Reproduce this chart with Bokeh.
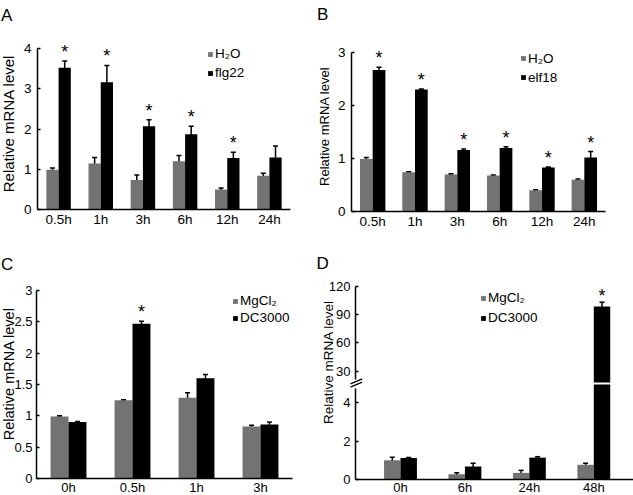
from bokeh.plotting import figure
from bokeh.models import (ColumnDataSource, Whisker, TeeHead, LabelSet, Label, Legend,
                          LegendItem, FixedTicker, Range1d, Arrow, LinearAxis, CDSView,
                          BooleanFilter)
from bokeh.layouts import row, column
from bokeh.core.properties import value
from bokeh.embed import file_html
from bokeh.resources import INLINE

FONT = "Liberation Sans"
GREY = "#737373"
BLACK = "#000000"

# ---------------- data ----------------
# Panel A
a_times = ["0.5h", "1h", "3h", "6h", "12h", "24h"]
a_h2o = [0.99, 1.14, 0.73, 1.20, 0.50, 0.84]
a_h2o_err = [0.04, 0.15, 0.13, 0.14, 0.035, 0.06]
a_flg22 = [3.52, 3.16, 2.07, 1.87, 1.28, 1.29]
a_flg22_err = [0.17, 0.42, 0.16, 0.20, 0.14, 0.29]
a_sig = [True, True, True, True, True, False]
a_yticks = [0, 1, 2, 3, 4]
a_ylabels = ["0", "1", "2", "3", "4"]

# Panel B
b_times = ["0.5h", "1h", "3h", "6h", "12h", "24h"]
b_h2o = [0.99, 0.74, 0.70, 0.68, 0.40, 0.60]
b_h2o_err = [0.03, 0.01, 0.01, 0.01, 0.01, 0.015]
b_elf18 = [2.67, 2.30, 1.16, 1.20, 0.83, 1.02]
b_elf18_err = [0.05, 0.01, 0.02, 0.02, 0.01, 0.11]
b_sig = [True, True, True, True, True, True]
b_yticks = [0, 1, 2, 3]
b_ylabels = ["0", "1", "2", "3"]

# Panel C
c_times = ["0h", "0.5h", "1h", "3h"]
c_mgcl2 = [0.99, 1.25, 1.29, 0.83]
c_mgcl2_err = [0.01, 0.005, 0.08, 0.02]
c_dc3000 = [0.90, 2.47, 1.60, 0.86]
c_dc3000_err = [0.01, 0.04, 0.06, 0.04]
c_sig = [False, True, False, False]
c_yticks = [0, 0.5, 1, 1.5, 2, 2.5, 3]
c_ylabels = ["0", "0.5", "1", "1.5", "2", "2.5", "3"]

# Panel D (broken y axis: lower segment 0-5, upper segment ~18-120)
d_times = ["0h", "6h", "24h", "48h"]
d_mgcl2 = [1.02, 0.29, 0.36, 0.78]
d_mgcl2_err = [0.15, 0.07, 0.13, 0.08]
d_dc3000 = [1.13, 0.69, 1.15, 98.7]
d_dc3000_err = [0.03, 0.17, 0.05, 4.6]
d_sig = [False, False, False, True]
d_yticks_low = [0, 2, 4]
d_ylabels_low = ["0", "2", "4"]
d_yticks_high = [30, 60, 90, 120]
d_ylabels_high = ["30", "60", "90", "120"]
d_break_low = 4.95     # top of the lower axis segment
d_break_high = 17.95   # bottom of the upper axis segment


def ext_range(a0, a1, lo_px, hi_px, total_px):
    """Extend the data interval [a0, a1] that spans pixels lo_px..hi_px to the full 0..total_px."""
    s = (a1 - a0) / (hi_px - lo_px)
    return Range1d(a0 - lo_px * s, a1 + (total_px - hi_px) * s)


def style_y(ax, x0, bounds, ticks, labels, size, standoff=6):
    ax.fixed_location = x0
    ax.bounds = bounds
    ax.ticker = FixedTicker(ticks=ticks)
    ax.major_label_overrides = {t: l for t, l in zip(ticks, labels)}
    ax.axis_line_width = 1.5
    ax.axis_line_color = BLACK
    ax.major_tick_line_width = 1.5
    ax.major_tick_line_color = BLACK
    ax.major_tick_in = 3
    ax.major_tick_out = 0
    ax.minor_tick_line_color = None
    ax.major_label_standoff = standoff
    ax.major_label_text_font = FONT
    ax.major_label_text_font_size = size
    ax.major_label_text_color = BLACK


def make_panel(w, h, area, xlim, ylim, yticks, ylabels, times, ybounds=None,
               xlab_standoff=2, tick_size="13.5px", ylab_standoff=6, xtick_size="13.5px"):
    """area = (left, right, top, bottom): pixel edges of the axes box inside the figure."""
    left, right, top, bottom = area
    x0, x1 = xlim
    y0, y1 = ylim
    xr = ext_range(x0, x1, left, right, w)
    yr = ext_range(y0, y1, h - bottom, h - top, h)
    p = figure(width=w, height=h, x_range=xr, y_range=yr, output_backend="svg",
               toolbar_location=None, min_border=0)
    p.outline_line_color = None
    p.grid.visible = False
    style_y(p.yaxis[0], x0, ybounds if ybounds is not None else (y0, y1), yticks, ylabels,
            tick_size, ylab_standoff)
    xa = p.xaxis[0]
    xa.fixed_location = y0
    xa.bounds = (x0, x1)
    xa.ticker = FixedTicker(ticks=list(range(len(times))))
    xa.major_label_overrides = {i: t for i, t in enumerate(times)}
    xa.axis_line_width = 1.5
    xa.axis_line_color = BLACK
    xa.major_tick_in = 0
    xa.major_tick_out = 0
    xa.minor_tick_line_color = None
    xa.major_label_standoff = xlab_standoff
    xa.major_label_text_font = FONT
    xa.major_label_text_font_size = xtick_size
    xa.major_label_text_color = BLACK
    return p


def whiskers(p, xs, ms, es, **kw):
    src = ColumnDataSource(dict(x=xs, upper=[m + e for m, e in zip(ms, es)],
                                lower=[m - e for m, e in zip(ms, es)]))
    p.add_layout(Whisker(base="x", upper="upper", lower="lower", source=src,
                         line_color=BLACK, line_width=1.5,
                         upper_head=TeeHead(size=5, line_color=BLACK, line_width=1.5),
                         lower_head=TeeHead(size=5, line_color=BLACK, line_width=1.5), **kw))


def stars(p, xs, ms, es, sig, offset, **kw):
    src = ColumnDataSource(dict(
        x=[x for x, s in zip(xs, sig) if s],
        y=[m + e for m, e, s in zip(ms, es, sig) if s],
        t=["*" for s in sig if s]))
    p.add_layout(LabelSet(x="x", y="y", text="t", source=src, y_offset=offset,
                          text_align="center", text_baseline="alphabetic",
                          text_font=value(FONT), text_font_size="18px", text_color=BLACK, **kw))


def legend(p, r1, r2, names, loc, spacing, font="13.5px"):
    p.add_layout(Legend(items=[LegendItem(label=names[0], renderers=[r1]),
                               LegendItem(label=names[1], renderers=[r2])],
                        location=loc, glyph_width=6, glyph_height=6, label_standoff=2,
                        label_height=15, spacing=spacing, padding=0, margin=0,
                        border_line_alpha=0, background_fill_alpha=0,
                        label_text_font=FONT, label_text_font_size=font,
                        label_text_color=BLACK))


def draw_bars(p, s1, e1, s2, e2, sig, bw, names, legend_loc, legend_spacing, star_offset=3):
    idx = list(range(len(s1)))
    x1 = [i - bw / 2 for i in idx]
    x2 = [i + bw / 2 for i in idx]
    r1 = p.vbar(x=x1, top=s1, width=bw, fill_color=GREY, line_color=None)
    r2 = p.vbar(x=x2, top=s2, width=bw, fill_color=BLACK, line_color=None)
    whiskers(p, x1, s1, e1)
    whiskers(p, x2, s2, e2)
    stars(p, x2, s2, e2, sig, star_offset)
    legend(p, r1, r2, names, legend_loc, legend_spacing)


def y_title(p, x, y, size):
    p.add_layout(Label(x=x, y=y, x_units="screen", y_units="screen", text="Relative mRNA level",
                       angle=90, angle_units="deg", text_align="center",
                       text_baseline="middle", text_font=FONT, text_font_size=size,
                       text_color=BLACK))


def letter(p, txt, x, y):
    p.add_layout(Label(x=x, y=y, x_units="screen", y_units="screen", text=txt,
                       text_align="left", text_baseline="alphabetic", text_font=FONT,
                       text_font_size="17px", text_color=BLACK))


# ---------------- Panel A ----------------
pa = make_panel(316, 250, (37, 290, 48, 209), (-0.5, 5.5), (0, 4), a_yticks, a_ylabels, a_times)
draw_bars(pa, a_h2o, a_h2o_err, a_flg22, a_flg22_err, a_sig, 0.29,
          ["H\u2082O", "flg22"], (207, 170), 4)
y_title(pa, 8.2, 127, "15px")
letter(pa, "A", 0.5, 235)

# ---------------- Panel B ----------------
pb = make_panel(317, 250, (35, 289, 52, 211), (-0.5, 5.5), (0, 3), b_yticks, b_ylabels, b_times)
draw_bars(pb, b_h2o, b_h2o_err, b_elf18, b_elf18_err, b_sig, 0.30,
          ["H\u2082O", "elf18"], (204, 165.5), 4)
y_title(pb, 7.5, 124.2, "13px")
letter(pb, "B", 0.5, 235.7)

# ---------------- Panel C ----------------
pc = make_panel(316, 245, (36, 292, 40, 228), (-0.5, 3.5), (0, 3), c_yticks, c_ylabels, c_times,
                xlab_standoff=1, tick_size="13px", ylab_standoff=4, xtick_size="13px")
draw_bars(pc, c_mgcl2, c_mgcl2_err, c_dc3000, c_dc3000_err, c_sig, 0.28,
          ["MgCl\u2082", "DC3000"], (232, 170), 2)
y_title(pc, 8.3, 121.7, "14.5px")
letter(pc, "C", 0.5, 231)

# ---------------- Panel D (one figure, two y scales) ----------------
d_xlim = (-0.698, 3.616)
pd = make_panel(317, 245, (39, 317, 0.75, 229.3), d_xlim, (0, 11.87), d_yticks_low,
                d_ylabels_low, d_times, ybounds=(0, 4.73), xlab_standoff=0,
                tick_size="13px", ylab_standoff=5, xtick_size="13px")
# upper scale: 120 at 36 px from the top, 0.9407 px per unit
pd.extra_y_ranges = {"upper": ext_range(d_break_high, 120, 245 - 132, 245 - 36, 245)}
upper_axis = LinearAxis(y_range_name="upper")
pd.add_layout(upper_axis, "left")
style_y(upper_axis, d_xlim[0], (20.8, 120), d_yticks_high, d_ylabels_high, "13px", 5)

bw = 0.255
d_x1 = [i - bw / 2 for i in range(len(d_times))]
d_x2 = [i + bw / 2 for i in range(len(d_times))]
lo_keep = [v <= d_break_low for v in d_dc3000]
r1 = pd.vbar(x=d_x1, top=d_mgcl2, width=bw, fill_color=GREY, line_color=None)
d_src = ColumnDataSource(dict(x=d_x2, top=d_dc3000))
# bars that fit in the lower segment
r2 = pd.vbar(x="x", top="top", width=bw, source=d_src,
             view=CDSView(filter=BooleanFilter(lo_keep)), fill_color=BLACK, line_color=None)
# tall bars: lower segment part up to the break ...
pd.vbar(x="x", top=d_break_low, width=bw, source=d_src,
        view=CDSView(filter=BooleanFilter([not k for k in lo_keep])),
        fill_color=BLACK, line_color=None)
# ... and the part on the upper scale
pd.vbar(x="x", top="top", bottom=d_break_high, width=bw, source=d_src,
        view=CDSView(filter=BooleanFilter([not k for k in lo_keep])),
        fill_color=BLACK, line_color=None, y_range_name="upper")
whiskers(pd, d_x1, d_mgcl2, d_mgcl2_err)
whiskers(pd, [x for x, k in zip(d_x2, lo_keep) if k], [v for v, k in zip(d_dc3000, lo_keep) if k],
         [e for e, k in zip(d_dc3000_err, lo_keep) if k])
whiskers(pd, [x for x, k in zip(d_x2, lo_keep) if not k],
         [v for v, k in zip(d_dc3000, lo_keep) if not k],
         [e for e, k in zip(d_dc3000_err, lo_keep) if not k], y_range_name="upper")
stars(pd, d_x2, d_dc3000, d_dc3000_err, d_sig, 0, y_range_name="upper")
legend(pd, r1, r2, ["MgCl\u2082", "DC3000"], (164, 170), 5)
y_title(pd, 11.8, 133.3, "13.5px")
letter(pd, "D", 0, 231.7)
for dy in (0.0, -3.4):
    pd.add_layout(Arrow(end=None, x_start=34, y_start=111.7 + dy, x_end=45.7, y_end=116.7 + dy,
                        start_units="screen", end_units="screen",
                        line_color=BLACK, line_width=1.3))

root = row(column(pa, pc), column(pb, pd))

open("out.html", "w").write(file_html(root, INLINE))
